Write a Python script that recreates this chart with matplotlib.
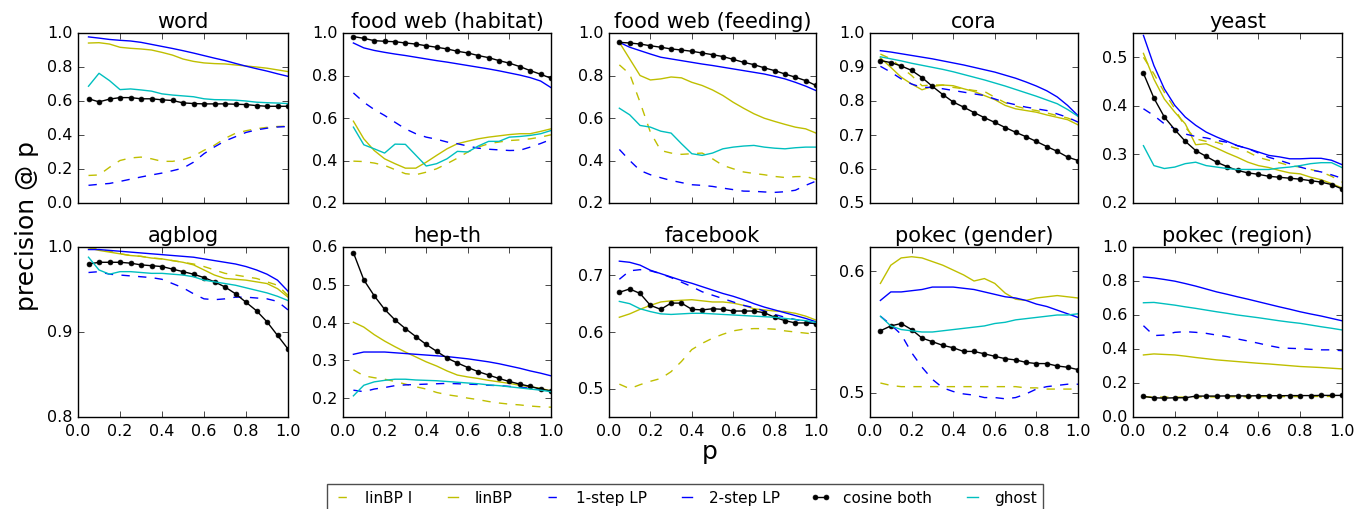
import numpy as np
import matplotlib
matplotlib.use("Agg")
import matplotlib.pyplot as plt

plt.style.use("classic")

p = [0.05, 0.10, 0.15, 0.20, 0.25, 0.30, 0.35, 0.40, 0.45, 0.50,
     0.55, 0.60, 0.65, 0.70, 0.75, 0.80, 0.85, 0.90, 0.95, 1.00]

methods = ["linBP I", "linBP", "1-step LP", "2-step LP", "cosine both", "ghost"]

titles = ["word", "food web (habitat)", "food web (feeding)", "cora", "yeast",
          "agblog", "hep-th", "facebook", "pokec (gender)", "pokec (region)"]

# ---------------- word ----------------
word_linbp_i = [0.162, 0.165, 0.21, 0.25, 0.265, 0.27, 0.26, 0.245, 0.245, 0.255,
                0.275, 0.31, 0.34, 0.38, 0.41, 0.425, 0.437, 0.445, 0.45, 0.452]
word_linbp = [0.941, 0.943, 0.935, 0.916, 0.91, 0.906, 0.90, 0.886, 0.87, 0.847,
              0.833, 0.824, 0.82, 0.818, 0.812, 0.806, 0.80, 0.793, 0.783, 0.773]
word_lp1 = [0.104, 0.11, 0.115, 0.127, 0.14, 0.153, 0.165, 0.176, 0.19, 0.205,
            0.24, 0.29, 0.33, 0.365, 0.39, 0.415, 0.43, 0.44, 0.447, 0.45]
word_lp2 = [0.977, 0.97, 0.962, 0.957, 0.953, 0.945, 0.933, 0.921, 0.909, 0.896,
            0.882, 0.867, 0.852, 0.838, 0.821, 0.805, 0.79, 0.776, 0.76, 0.745]
word_cos = [0.613, 0.595, 0.611, 0.62, 0.62, 0.613, 0.613, 0.607, 0.603, 0.589,
            0.585, 0.583, 0.583, 0.583, 0.581, 0.579, 0.573, 0.569, 0.569, 0.569]
word_ghost = [0.687, 0.763, 0.72, 0.667, 0.671, 0.665, 0.658, 0.642, 0.635, 0.63,
              0.625, 0.613, 0.608, 0.607, 0.605, 0.6, 0.593, 0.59, 0.588, 0.585]

# ---------------- food web (habitat) ----------------
hab_linbp_i = [0.397, 0.395, 0.388, 0.377, 0.357, 0.338, 0.333, 0.345, 0.361, 0.385,
               0.411, 0.44, 0.463, 0.479, 0.487, 0.494, 0.497, 0.502, 0.51, 0.521]
hab_linbp = [0.585, 0.502, 0.447, 0.408, 0.385, 0.364, 0.364, 0.392, 0.424, 0.455,
             0.479, 0.491, 0.502, 0.51, 0.516, 0.522, 0.526, 0.526, 0.537, 0.549]
hab_lp1 = [0.718, 0.674, 0.64, 0.612, 0.58, 0.549, 0.526, 0.51, 0.50, 0.487,
           0.479, 0.468, 0.458, 0.453, 0.45, 0.447, 0.448, 0.463, 0.48, 0.499]
hab_lp2 = [0.953, 0.93, 0.918, 0.909, 0.901, 0.894, 0.886, 0.878, 0.87, 0.863,
           0.855, 0.847, 0.839, 0.831, 0.822, 0.812, 0.802, 0.79, 0.774, 0.743]
hab_cos = [0.983, 0.975, 0.964, 0.961, 0.959, 0.953, 0.948, 0.94, 0.933, 0.925,
           0.914, 0.906, 0.894, 0.884, 0.87, 0.858, 0.842, 0.823, 0.806, 0.787]
hab_ghost = [0.557, 0.474, 0.455, 0.435, 0.477, 0.476, 0.425, 0.374, 0.385, 0.408,
             0.443, 0.44, 0.468, 0.49, 0.49, 0.51, 0.513, 0.518, 0.526, 0.541]

# ---------------- food web (feeding) ----------------
fee_linbp_i = [0.85, 0.807, 0.674, 0.533, 0.447, 0.435, 0.429, 0.432, 0.435, 0.408,
               0.377, 0.361, 0.346, 0.339, 0.333, 0.325, 0.32, 0.324, 0.325, 0.311]
fee_linbp = [0.956, 0.878, 0.80, 0.779, 0.784, 0.793, 0.789, 0.768, 0.753, 0.732,
             0.706, 0.674, 0.646, 0.62, 0.599, 0.584, 0.57, 0.557, 0.549, 0.529]
fee_lp1 = [0.452, 0.40, 0.353, 0.333, 0.319, 0.306, 0.296, 0.286, 0.283, 0.278,
           0.27, 0.263, 0.256, 0.255, 0.252, 0.25, 0.253, 0.26, 0.283, 0.303]
fee_lp2 = [0.956, 0.933, 0.917, 0.901, 0.886, 0.878, 0.87, 0.862, 0.854, 0.847,
           0.839, 0.831, 0.823, 0.815, 0.807, 0.796, 0.784, 0.768, 0.75, 0.729]
fee_cos = [0.956, 0.953, 0.948, 0.94, 0.933, 0.925, 0.92, 0.914, 0.906, 0.898,
           0.889, 0.876, 0.862, 0.851, 0.836, 0.823, 0.807, 0.792, 0.776, 0.753]
fee_ghost = [0.646, 0.615, 0.565, 0.557, 0.538, 0.529, 0.479, 0.432, 0.424, 0.435,
             0.455, 0.463, 0.468, 0.471, 0.463, 0.458, 0.455, 0.46, 0.463, 0.463]

# ---------------- cora ----------------
cora_linbp_i = [0.938, 0.924, 0.899, 0.875, 0.845, 0.847, 0.847, 0.84, 0.836, 0.831,
                0.828, 0.811, 0.795, 0.785, 0.777, 0.772, 0.765, 0.757, 0.75, 0.738]
cora_linbp = [0.927, 0.899, 0.87, 0.85, 0.833, 0.843, 0.847, 0.845, 0.836, 0.828,
              0.816, 0.804, 0.787, 0.777, 0.772, 0.767, 0.759, 0.752, 0.745, 0.73]
cora_lp1 = [0.902, 0.885, 0.865, 0.85, 0.84, 0.84, 0.836, 0.831, 0.826, 0.821,
            0.816, 0.806, 0.796, 0.789, 0.782, 0.777, 0.772, 0.762, 0.752, 0.738]
cora_lp2 = [0.948, 0.944, 0.939, 0.934, 0.929, 0.924, 0.918, 0.912, 0.906, 0.899,
            0.892, 0.885, 0.876, 0.867, 0.856, 0.844, 0.83, 0.812, 0.787, 0.757]
cora_cos = [0.919, 0.913, 0.903, 0.89, 0.869, 0.843, 0.819, 0.797, 0.782, 0.766,
            0.751, 0.737, 0.722, 0.708, 0.695, 0.681, 0.666, 0.652, 0.635, 0.625]
cora_ghost = [0.93, 0.924, 0.918, 0.911, 0.905, 0.899, 0.893, 0.886, 0.878, 0.87,
              0.862, 0.853, 0.844, 0.834, 0.824, 0.814, 0.803, 0.792, 0.775, 0.755]

# ---------------- yeast ----------------
yea_linbp_i = [0.50, 0.466, 0.428, 0.394, 0.356, 0.332, 0.327, 0.325, 0.318, 0.312,
               0.305, 0.294, 0.288, 0.283, 0.277, 0.274, 0.269, 0.264, 0.255, 0.243]
yea_linbp = [0.508, 0.455, 0.414, 0.387, 0.363, 0.32, 0.322, 0.313, 0.303, 0.294,
             0.284, 0.277, 0.273, 0.267, 0.262, 0.26, 0.253, 0.248, 0.24, 0.231]
yea_lp1 = [0.394, 0.38, 0.363, 0.353, 0.342, 0.337, 0.334, 0.329, 0.325, 0.318,
           0.312, 0.303, 0.294, 0.288, 0.281, 0.274, 0.268, 0.264, 0.258, 0.251]
yea_lp2 = [0.545, 0.483, 0.435, 0.401, 0.377, 0.36, 0.346, 0.336, 0.327, 0.318,
           0.312, 0.305, 0.298, 0.295, 0.291, 0.291, 0.292, 0.292, 0.288, 0.279]
yea_cos = [0.467, 0.416, 0.377, 0.351, 0.327, 0.308, 0.296, 0.284, 0.275, 0.267,
           0.262, 0.259, 0.255, 0.253, 0.251, 0.249, 0.246, 0.243, 0.238, 0.229]
yea_ghost = [0.318, 0.277, 0.271, 0.274, 0.281, 0.284, 0.277, 0.274, 0.271, 0.269,
             0.269, 0.269, 0.269, 0.272, 0.274, 0.277, 0.281, 0.283, 0.283, 0.273]

# ---------------- agblog ----------------
agb_linbp_i = [1.0, 0.997, 0.995, 0.992, 0.99, 0.989, 0.987, 0.986, 0.984, 0.982,
               0.98, 0.977, 0.973, 0.969, 0.967, 0.965, 0.963, 0.959, 0.955, 0.943]
agb_linbp = [0.999, 0.996, 0.994, 0.992, 0.99, 0.989, 0.987, 0.986, 0.984, 0.982,
             0.979, 0.973, 0.967, 0.963, 0.962, 0.961, 0.959, 0.957, 0.951, 0.941]
agb_lp1 = [0.97, 0.971, 0.968, 0.967, 0.966, 0.965, 0.964, 0.962, 0.957, 0.952,
           0.945, 0.939, 0.938, 0.939, 0.941, 0.941, 0.94, 0.939, 0.936, 0.926]
agb_lp2 = [0.997, 0.997, 0.996, 0.995, 0.994, 0.993, 0.992, 0.991, 0.99, 0.989,
           0.988, 0.986, 0.984, 0.982, 0.98, 0.977, 0.973, 0.968, 0.961, 0.948]
agb_cos = [0.98, 0.982, 0.982, 0.982, 0.981, 0.979, 0.978, 0.977, 0.974, 0.971,
           0.968, 0.964, 0.959, 0.953, 0.945, 0.935, 0.925, 0.912, 0.896, 0.88]
agb_ghost = [0.988, 0.973, 0.968, 0.971, 0.971, 0.97, 0.969, 0.969, 0.968, 0.967,
             0.965, 0.961, 0.959, 0.957, 0.955, 0.952, 0.949, 0.946, 0.942, 0.937]

# ---------------- hep-th ----------------
hep_linbp_i = [0.275, 0.259, 0.254, 0.25, 0.244, 0.237, 0.23, 0.224, 0.215, 0.209,
               0.205, 0.20, 0.196, 0.191, 0.187, 0.184, 0.182, 0.179, 0.177, 0.176]
hep_linbp = [0.401, 0.388, 0.368, 0.351, 0.336, 0.322, 0.309, 0.296, 0.285, 0.272,
             0.261, 0.256, 0.252, 0.247, 0.243, 0.239, 0.234, 0.23, 0.226, 0.219]
hep_lp1 = [0.221, 0.217, 0.224, 0.228, 0.233, 0.235, 0.236, 0.237, 0.238, 0.239,
           0.238, 0.237, 0.236, 0.234, 0.233, 0.231, 0.229, 0.226, 0.222, 0.218]
hep_lp2 = [0.316, 0.322, 0.322, 0.322, 0.32, 0.318, 0.316, 0.314, 0.312, 0.31,
           0.307, 0.304, 0.3, 0.296, 0.291, 0.285, 0.279, 0.272, 0.266, 0.259]
hep_cos = [0.585, 0.513, 0.471, 0.435, 0.407, 0.384, 0.363, 0.342, 0.324, 0.306,
           0.293, 0.281, 0.27, 0.261, 0.252, 0.244, 0.237, 0.231, 0.224, 0.219]
hep_ghost = [0.206, 0.234, 0.243, 0.247, 0.25, 0.25, 0.248, 0.247, 0.246, 0.244,
             0.242, 0.24, 0.238, 0.235, 0.233, 0.23, 0.227, 0.224, 0.221, 0.217]

# ---------------- facebook ----------------
fb_linbp_i = [0.508, 0.50, 0.507, 0.513, 0.518, 0.53, 0.548, 0.569, 0.58, 0.589,
              0.596, 0.602, 0.605, 0.606, 0.606, 0.605, 0.602, 0.60, 0.598, 0.596]
fb_linbp = [0.626, 0.632, 0.64, 0.647, 0.653, 0.655, 0.656, 0.657, 0.655, 0.653,
            0.653, 0.651, 0.647, 0.641, 0.639, 0.637, 0.636, 0.633, 0.628, 0.621]
fb_lp1 = [0.693, 0.708, 0.71, 0.708, 0.703, 0.696, 0.688, 0.68, 0.671, 0.665,
          0.659, 0.653, 0.647, 0.643, 0.637, 0.631, 0.626, 0.622, 0.618, 0.614]
fb_lp2 = [0.725, 0.723, 0.718, 0.709, 0.703, 0.697, 0.691, 0.686, 0.68, 0.674,
          0.668, 0.663, 0.657, 0.65, 0.644, 0.639, 0.634, 0.629, 0.624, 0.618]
fb_cos = [0.67, 0.676, 0.668, 0.647, 0.64, 0.651, 0.651, 0.64, 0.639, 0.641,
          0.64, 0.637, 0.637, 0.637, 0.634, 0.626, 0.62, 0.616, 0.616, 0.615]
fb_ghost = [0.654, 0.65, 0.641, 0.636, 0.632, 0.631, 0.632, 0.633, 0.633, 0.632,
            0.631, 0.63, 0.629, 0.628, 0.627, 0.626, 0.624, 0.622, 0.62, 0.617]

# ---------------- pokec (gender) ----------------
pg_linbp_i = [0.508, 0.506, 0.505, 0.505, 0.505, 0.505, 0.505, 0.505, 0.505, 0.505,
              0.505, 0.505, 0.505, 0.505, 0.504, 0.504, 0.503, 0.503, 0.503, 0.503]
pg_linbp = [0.59, 0.605, 0.611, 0.612, 0.611, 0.608, 0.605, 0.601, 0.597, 0.592,
            0.594, 0.59, 0.582, 0.577, 0.576, 0.578, 0.579, 0.58, 0.579, 0.578]
pg_lp1 = [0.563, 0.556, 0.548, 0.533, 0.521, 0.511, 0.504, 0.501, 0.499, 0.498,
          0.496, 0.496, 0.495, 0.496, 0.499, 0.503, 0.505, 0.506, 0.507, 0.507]
pg_lp2 = [0.576, 0.583, 0.583, 0.584, 0.585, 0.587, 0.587, 0.587, 0.586, 0.585,
          0.583, 0.581, 0.579, 0.578, 0.576, 0.573, 0.571, 0.568, 0.565, 0.562]
pg_cos = [0.551, 0.555, 0.557, 0.552, 0.545, 0.542, 0.539, 0.537, 0.534, 0.534,
          0.532, 0.53, 0.528, 0.527, 0.525, 0.524, 0.524, 0.522, 0.521, 0.519]
pg_ghost = [0.563, 0.555, 0.552, 0.551, 0.55, 0.55, 0.551, 0.552, 0.553, 0.554,
            0.555, 0.557, 0.558, 0.56, 0.561, 0.562, 0.563, 0.564, 0.564, 0.565]

# ---------------- pokec (region) ----------------
pr_linbp_i = [0.119, 0.118, 0.117, 0.117, 0.117, 0.118, 0.118, 0.118, 0.119, 0.119,
              0.119, 0.119, 0.12, 0.12, 0.12, 0.12, 0.121, 0.121, 0.121, 0.122]
pr_linbp = [0.365, 0.371, 0.368, 0.365, 0.358, 0.35, 0.343, 0.336, 0.331, 0.326,
            0.321, 0.316, 0.312, 0.307, 0.302, 0.297, 0.294, 0.291, 0.287, 0.283]
pr_lp1 = [0.537, 0.479, 0.482, 0.498, 0.502, 0.498, 0.492, 0.482, 0.473, 0.459,
          0.447, 0.434, 0.42, 0.408, 0.404, 0.402, 0.398, 0.395, 0.395, 0.39]
pr_lp2 = [0.824, 0.818, 0.809, 0.799, 0.785, 0.77, 0.753, 0.736, 0.722, 0.707,
          0.693, 0.678, 0.663, 0.648, 0.634, 0.619, 0.606, 0.594, 0.58, 0.566]
pr_cos = [0.121, 0.113, 0.111, 0.113, 0.113, 0.123, 0.123, 0.123, 0.124, 0.124,
          0.124, 0.125, 0.125, 0.125, 0.126, 0.126, 0.126, 0.127, 0.127, 0.127]
pr_ghost = [0.672, 0.674, 0.666, 0.658, 0.648, 0.639, 0.629, 0.619, 0.61, 0.60,
            0.592, 0.584, 0.575, 0.566, 0.558, 0.551, 0.541, 0.531, 0.522, 0.512]

panels = [
    [word_linbp_i, word_linbp, word_lp1, word_lp2, word_cos, word_ghost],
    [hab_linbp_i, hab_linbp, hab_lp1, hab_lp2, hab_cos, hab_ghost],
    [fee_linbp_i, fee_linbp, fee_lp1, fee_lp2, fee_cos, fee_ghost],
    [cora_linbp_i, cora_linbp, cora_lp1, cora_lp2, cora_cos, cora_ghost],
    [yea_linbp_i, yea_linbp, yea_lp1, yea_lp2, yea_cos, yea_ghost],
    [agb_linbp_i, agb_linbp, agb_lp1, agb_lp2, agb_cos, agb_ghost],
    [hep_linbp_i, hep_linbp, hep_lp1, hep_lp2, hep_cos, hep_ghost],
    [fb_linbp_i, fb_linbp, fb_lp1, fb_lp2, fb_cos, fb_ghost],
    [pg_linbp_i, pg_linbp, pg_lp1, pg_lp2, pg_cos, pg_ghost],
    [pr_linbp_i, pr_linbp, pr_lp1, pr_lp2, pr_cos, pr_ghost],
]

ylims = [(0.0, 1.0), (0.2, 1.0), (0.2, 1.0), (0.5, 1.0), (0.2, 0.55),
         (0.8, 1.0), (0.15, 0.6), (0.45, 0.75), (0.48, 0.62), (0.0, 1.0)]
yticks = [
    [0.0, 0.2, 0.4, 0.6, 0.8, 1.0],
    [0.2, 0.4, 0.6, 0.8, 1.0],
    [0.2, 0.4, 0.6, 0.8, 1.0],
    [0.5, 0.6, 0.7, 0.8, 0.9, 1.0],
    [0.2, 0.3, 0.4, 0.5],
    [0.8, 0.9, 1.0],
    [0.2, 0.3, 0.4, 0.5, 0.6],
    [0.5, 0.6, 0.7],
    [0.5, 0.6],
    [0.0, 0.2, 0.4, 0.6, 0.8, 1.0],
]
xticks = [0.0, 0.2, 0.4, 0.6, 0.8, 1.0]

styles = [
    dict(color="y", linestyle="--"),
    dict(color="y", linestyle="-"),
    dict(color="b", linestyle="--"),
    dict(color="b", linestyle="-"),
    dict(color="k", linestyle="-", marker="o", markersize=3.5, markeredgecolor="k"),
    dict(color="c", linestyle="-"),
]

W, H = 1370, 510
fig = plt.figure(figsize=(13.7, 5.1), dpi=100)
fig.patch.set_facecolor("white")

lefts = [78, 343, 609, 870, 1133]
widths = [210, 208, 207, 208, 209]
tops = [34, 248]
height = 170

axes = []
for i in range(10):
    r, c = divmod(i, 5)
    ax = fig.add_axes([lefts[c] / W, 1 - (tops[r] + height) / H, widths[c] / W, height / H])
    axes.append(ax)
    for j, series in enumerate(panels[i]):
        ax.plot(p, series, linewidth=1.0, label=methods[j], **styles[j])
    ax.set_xlim(0, 1)
    ax.set_ylim(*ylims[i])
    ax.set_xticks(xticks)
    ax.set_yticks(yticks[i])
    ax.set_xticklabels(["%.1f" % v for v in xticks])
    ax.set_yticklabels(["%.1f" % v for v in yticks[i]])
    ax.tick_params(labelsize=11.5, direction="in", top=True, right=True, length=4)
    ax.set_title(titles[i], fontsize=15, pad=4)
    if r == 0:
        ax.tick_params(labelbottom=False)
    ax.set_facecolor("white")

fig.text(27 / W, 1 - 226 / H, "precision @ p", rotation=90, fontsize=18,
         ha="center", va="center")
fig.text(710 / W, 1 - 452 / H, "p", fontsize=18, ha="center", va="center")

handles, labels = axes[0].get_legend_handles_labels()
leg = fig.legend(handles, labels, loc="upper left", ncol=6,
                 bbox_to_anchor=(327 / W, 1 - 485 / H), bbox_transform=fig.transFigure,
                 fontsize=11, handlelength=1.3, numpoints=2, frameon=True,
                 columnspacing=2.0, handletextpad=0.8, borderaxespad=0.0)
leg.get_frame().set_edgecolor("0.3")

fig.savefig("out.png", dpi=100, facecolor="white")
